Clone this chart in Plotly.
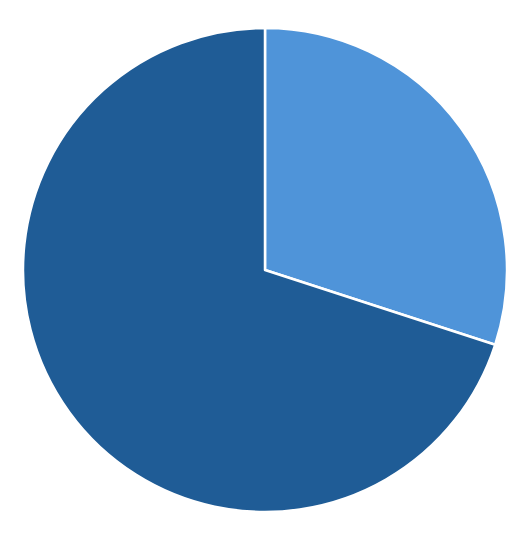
import plotly.graph_objects as go

# Two slice shares
labels = ['A', 'B']
values = [30, 70]
colors = ['#4f94d9', '#1f5c96']

fig = go.Figure(data=[
    go.Pie(labels=labels, values=values, sort=False, direction='clockwise', rotation=0,
           textinfo='none', hoverinfo='label+percent',
           marker=dict(colors=colors, line=dict(color='white', width=2.5)))
])

fig.update_layout(
    width=531, height=541,
    margin=dict(l=15, r=32, t=20, b=37),
    showlegend=False,
    paper_bgcolor='white',
    plot_bgcolor='white'
)

fig.write_html("out.html")
